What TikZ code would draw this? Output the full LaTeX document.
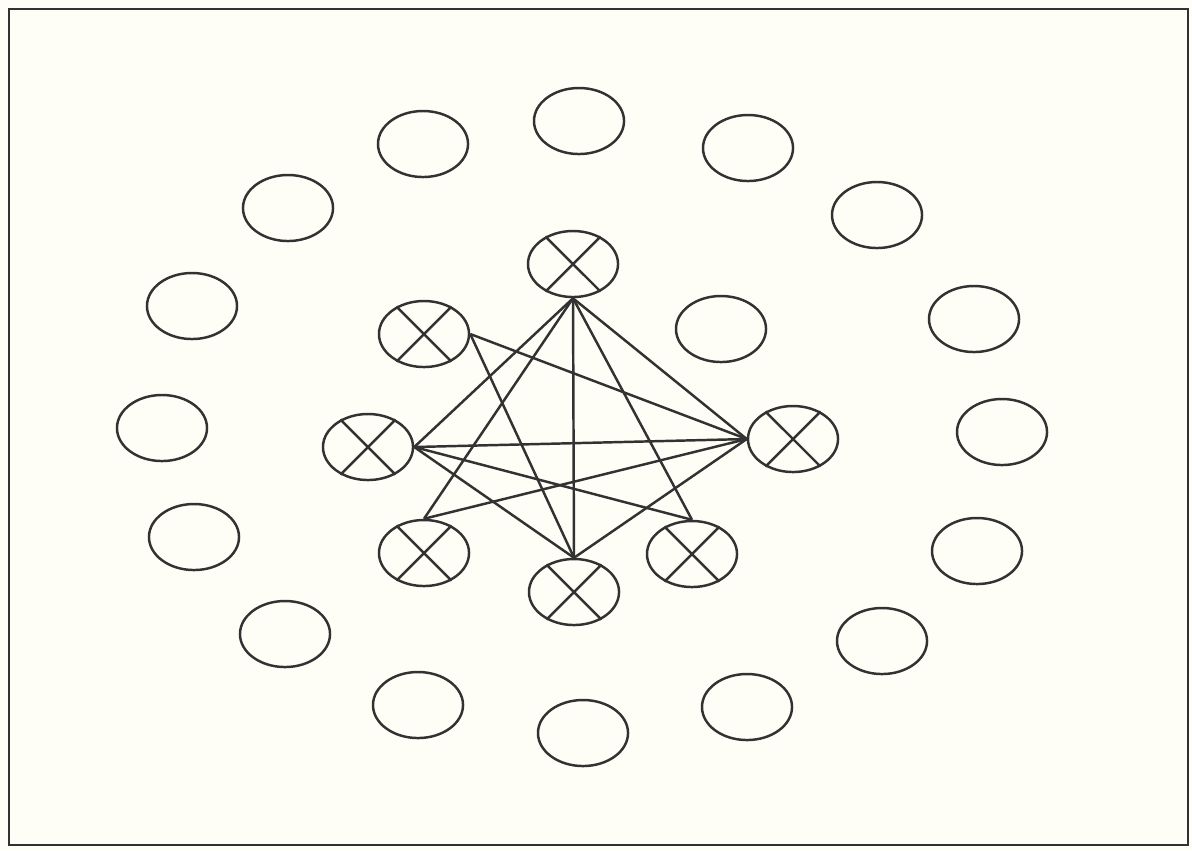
\documentclass[tikz,border=0pt]{standalone}
\usepackage{tikz}
\usetikzlibrary{shapes.geometric}

\definecolor{paper}{RGB}{254,254,247}
\definecolor{ink}{RGB}{50,50,50}

\begin{document}
\begin{tikzpicture}[x=0.01cm, y=-0.01cm, line width=0.7pt, draw=ink,
    every node/.style={draw=ink, ellipse, line width=0.7pt, inner sep=0pt, minimum width=0.9cm, minimum height=0.66cm}]
    % Page
    \useasboundingbox[fill=paper] (0,0) rectangle (1192,850);
    \draw[line width=0.8pt] (9,9) rectangle (1188,845);

    % Outer ring
    \node (o1) at (579,121) {};
    \node (o2) at (423,144) {};
    \node (o3) at (748,148) {};
    \node (o4) at (288,208) {};
    \node (o5) at (877,215) {};
    \node (o6) at (192,306) {};
    \node (o7) at (974,319) {};
    \node (o8) at (162,428) {};
    \node (o9) at (1002,432) {};
    \node (o10) at (194,537) {};
    \node (o11) at (977,551) {};
    \node (o12) at (285,634) {};
    \node (o13) at (882,641) {};
    \node (o14) at (418,705) {};
    \node (o15) at (747,707) {};
    \node (o16) at (583,733) {};

    % Inner group
    \node (a) at (573,264) {};
    \node (b) at (424,334) {};
    \node (c) at (721,329) {};
    \node (d) at (368,447) {};
    \node (e) at (793,439) {};
    \node (f) at (424,553) {};
    \node (g) at (574,592) {};
    \node (h) at (692,554) {};

    % Crosses
    \foreach \n in {a,b,d,e,f,g,h} {
        \draw (\n.45) -- (\n.225);
        \draw (\n.135) -- (\n.315);
    }

    % Links
    \draw (a.south) -- (d.east);
    \draw (a.south) -- (f.north);
    \draw (a.south) -- (g.north);
    \draw (a.south) -- (h.north);
    \draw (a.south) -- (e.west);
    \draw (b.east) -- (e.west);
    \draw (b.east) -- (g.north);
    \draw (d.east) -- (e.west);
    \draw (d.east) -- (g.north);
    \draw (d.east) -- (h.north);
    \draw (e.west) -- (f.north);
    \draw (e.west) -- (g.north);
\end{tikzpicture}
\end{document}
